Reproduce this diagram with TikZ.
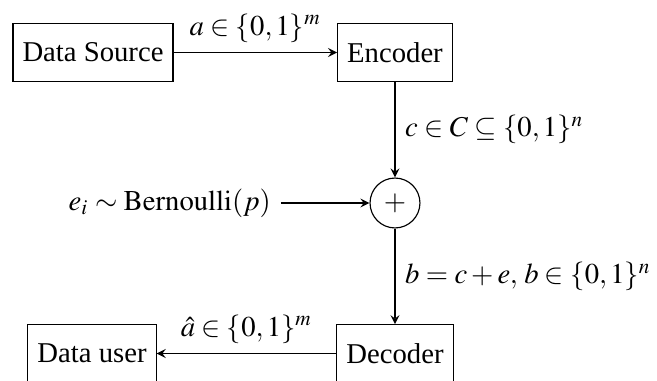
\documentclass[tikz,border=0pt]{standalone}
\usepackage{mathptmx}
\usepackage{fontspec}
\setmainfont{Liberation Serif}
\begin{document}
\begin{tikzpicture}[x=0.3486pt,y=-0.3486pt,
  font=\fontsize{10}{12}\selectfont,
  blk/.style={draw,minimum height=20pt,inner sep=0.3333em},
  arr/.style={-stealth}]
\clip (0,0) rectangle (657,381);
\node[blk] (src) at (93,52.5) {Data Source};
\node[blk] (enc) at (395,52.5) {Encoder};
\node[draw,circle,minimum size=17.4pt,inner sep=0pt] (sum) at (395,203) {$+$};
\node[anchor=east] (noise) at (281,203) {$e_i\sim\mathrm{Bernoulli}(p)$};
\node[blk] (dec) at (395,353.5) {Decoder};
\node[blk] (usr) at (92,353.5) {Data user};
\draw[arr] (src) -- node[above]{$a\in\{0,1\}^m$} (enc);
\draw[arr] (enc) -- node[right]{$c\in C\subseteq\{0,1\}^n$} (sum);
\draw[arr] (noise) -- (sum);
\draw[arr] (sum) -- node[right]{$b=c+e,\, b\in\{0,1\}^n$} (dec);
\draw[arr] (dec) -- node[above]{$\hat a\in\{0,1\}^m$} (usr);
\end{tikzpicture}
\end{document}
